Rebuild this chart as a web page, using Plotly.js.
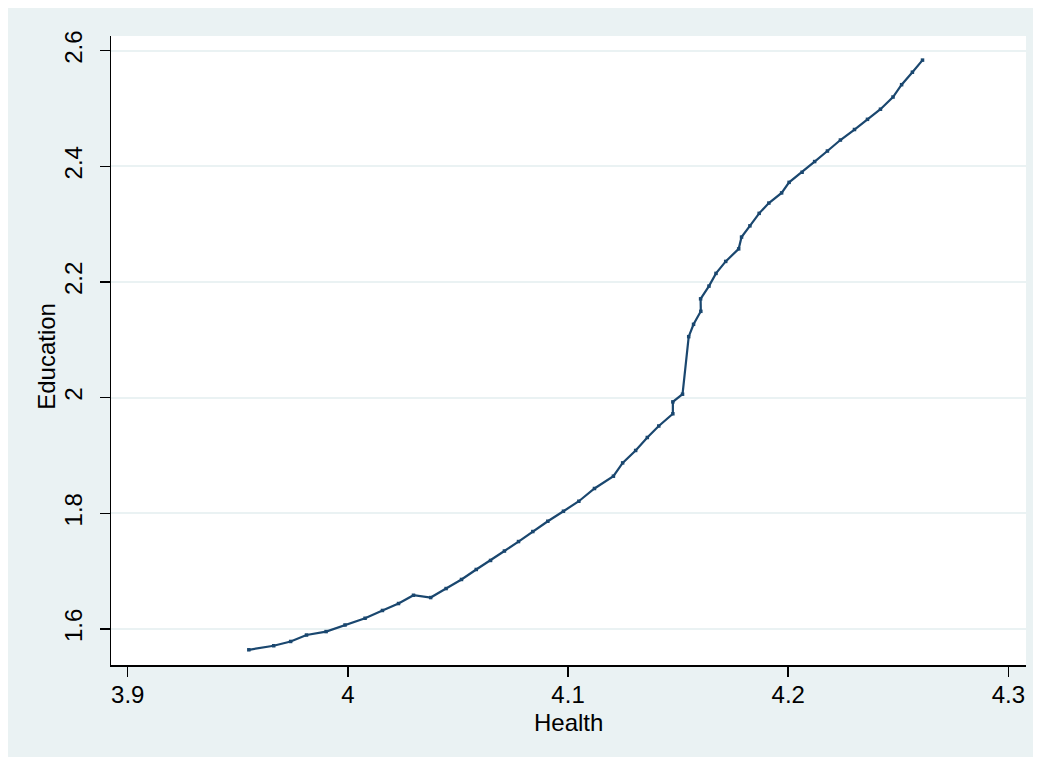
<!DOCTYPE html>
<html>
<head>
<meta charset="utf-8">
<script src="https://cdn.plot.ly/plotly-3.0.1.min.js"></script>
<style>
  html, body { margin: 0; padding: 0; background: #ffffff; width: 1041px; height: 765px; overflow: hidden; }
  #chart { position: absolute; left: 8px; top: 8px; width: 1025px; height: 749px; }
</style>
</head>
<body>
<div id="chart"></div>
<script>
// Health (x) and Education (y) values
const health = [
  3.955, 3.9663, 3.974, 3.9812, 3.9901, 3.9987, 4.0078, 4.0157, 4.023, 4.0298,
  4.0376, 4.0446, 4.0516, 4.0583, 4.0648, 4.0711, 4.0775, 4.084, 4.0908, 4.0979,
  4.1049, 4.112, 4.1206, 4.1248, 4.1307, 4.136, 4.1412, 4.1476, 4.1476, 4.152,
  4.1548, 4.157, 4.1603, 4.1602, 4.164, 4.1672, 4.1716, 4.1775, 4.1788, 4.1826,
  4.1868, 4.1912, 4.197, 4.2004, 4.2063, 4.212, 4.2178, 4.2237, 4.2301, 4.236,
  4.2419, 4.2476, 4.2515, 4.2564, 4.261
];
const education = [
  1.564, 1.571, 1.5784, 1.5895, 1.5955, 1.6069, 1.6185, 1.632, 1.644, 1.6583,
  1.6543, 1.6699, 1.6856, 1.7029, 1.7185, 1.7348, 1.7512, 1.7685, 1.7863, 1.8036,
  1.8209, 1.8429, 1.8642, 1.8872, 1.9087, 1.9311, 1.951, 1.9721, 1.9927, 2.006,
  2.1055, 2.1268, 2.1493, 2.1709, 2.1929, 2.2149, 2.2356, 2.2573, 2.2777, 2.2971,
  2.3187, 2.3365, 2.3541, 2.3723, 2.3898, 2.4083, 2.4265, 2.4455, 2.4637, 2.4813,
  2.4988, 2.5199, 2.5412, 2.5628, 2.5837
];
const xTicks = [3.9, 4, 4.1, 4.2, 4.3];
const xTickLabels = ["3.9", "4", "4.1", "4.2", "4.3"];
const yTicks = [1.6, 1.8, 2, 2.2, 2.4, 2.6];
const yTickLabels = ["1.6", "1.8", "2", "2.2", "2.4", "2.6"];
const xTitle = "Health";
const yTitle = "Education";

const navy = "#1a476f";
const fontFam = "Liberation Sans, Arial, Helvetica, sans-serif";

const trace = {
  x: health, y: education,
  type: "scatter", mode: "lines+markers",
  line: { color: navy, width: 2.2 },
  marker: { color: navy, size: 3.5, symbol: "square" },
  hoverinfo: "skip"
};

const layout = {
  width: 1025, height: 749,
  margin: { l: 103, r: 7, t: 28, b: 92 },
  paper_bgcolor: "#eaf2f3",
  plot_bgcolor: "#ffffff",
  showlegend: false,
  font: { family: fontFam, color: "#000000", size: 24 },
  xaxis: {
    range: [3.8924, 4.308],
    tickmode: "array", tickvals: xTicks, ticktext: xTickLabels,
    ticks: "outside", ticklen: 10, tickwidth: 1.5, tickcolor: "#000000",
    ticklabelstandoff: -2,
    showline: true, linecolor: "#000000", linewidth: 1.5,
    showgrid: false, zeroline: false,
    tickfont: { family: fontFam, size: 24, color: "#000000" }
  },
  yaxis: {
    range: [1.5377, 2.6254],
    tickmode: "array", tickvals: yTicks, ticktext: yTickLabels,
    tickangle: -90,
    ticks: "outside", ticklen: 10, tickwidth: 1.5, tickcolor: "#000000",
    ticklabelstandoff: 8,
    showline: true, linecolor: "#000000", linewidth: 1.5,
    showgrid: true, gridcolor: "#eaf2f3", gridwidth: 2,
    zeroline: false,
    tickfont: { family: fontFam, size: 24, color: "#000000" }
  },
  annotations: [{
    text: yTitle, xref: "paper", yref: "paper", x: 0, y: 0.49,
    xshift: -64, xanchor: "center", yanchor: "middle",
    textangle: -90, showarrow: false,
    font: { family: fontFam, size: 24, color: "#000000" }
  }, {
    text: xTitle, xref: "paper", yref: "paper", x: 0.5, y: 0,
    yshift: -57, xanchor: "center", yanchor: "middle",
    showarrow: false,
    font: { family: fontFam, size: 24, color: "#000000" }
  }]
};

Plotly.newPlot("chart", [trace], layout, { displayModeBar: false, staticPlot: true });
</script>
</body>
</html>
